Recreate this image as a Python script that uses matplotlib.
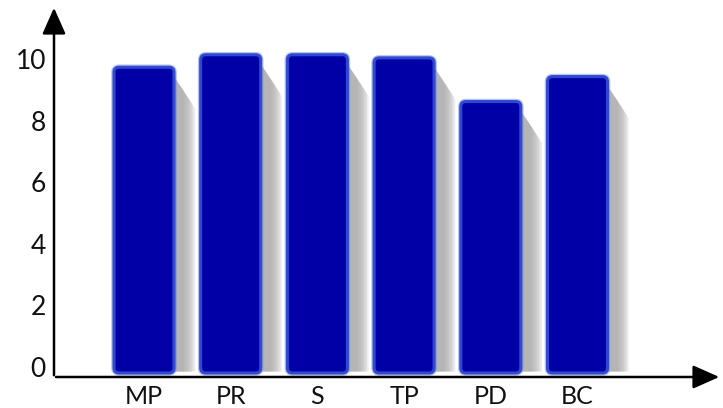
import numpy as np
import matplotlib.pyplot as plt
from matplotlib.patches import FancyBboxPatch, Polygon, FancyArrowPatch

categories = ["MP", "PR", "S", "TP", "PD", "BC"]
values = [9.8, 10.2, 10.2, 10.1, 8.7, 9.5]
y_ticks = [0, 2, 4, 6, 8, 10]

W, H = 723, 408
fig = plt.figure(figsize=(W / 100, H / 100), dpi=100)

# axes box in pixels: left edge, baseline, right end, top end
x0, yb, x1, yt = 54, 377, 720, 10
ax = fig.add_axes([x0 / W, (H - yb) / H, (x1 - x0) / W, (yb - yt) / H])

step_px = 86.7      # pixels between bar centres
unit_px = 31.2      # pixels per y unit
first_px = 144      # centre of the first bar
zero_px = 373       # y pixel of value 0

ax.set_xlim((x0 - first_px) / step_px, (x1 - first_px) / step_px)
ax.set_ylim(-(yb - zero_px) / unit_px, (zero_px - yt) / unit_px)
for s in ax.spines.values():
    s.set_visible(False)
ax.set_xticks([])
ax.set_yticks([])

font = ["Lato", "DejaVu Sans"]
bar_w = 60 / step_px
r_x = 5 / step_px
aspect = (5 / unit_px) / r_x

for i, (name, v) in enumerate(zip(categories, values)):
    left = i - bar_w / 2
    right = i + bar_w / 2
    # soft drop shadow, built from stacked translucent layers
    for k in range(8):
        dx = (10 + k * 1.6) / step_px
        dy = (24 + k * 2.5) / unit_px
        shadow = Polygon([(right - 0.05, v - 0.1), (right + dx, v - dy),
                          (right + dx, 0.05), (right - 0.05, 0.05)],
                         closed=True, facecolor="#a8a8a8", edgecolor="none",
                         alpha=0.2, zorder=1)
        ax.add_patch(shadow)
    # slight glow around the border
    glow = FancyBboxPatch((left, 0), bar_w, v,
                          boxstyle=f"round,pad=0,rounding_size={r_x}",
                          mutation_aspect=aspect, facecolor="none",
                          edgecolor="#6f86e0", linewidth=4, alpha=0.5, zorder=2)
    ax.add_patch(glow)
    bar = FancyBboxPatch((left, 0), bar_w, v,
                         boxstyle=f"round,pad=0,rounding_size={r_x}",
                         mutation_aspect=aspect, facecolor="#0000a6",
                         edgecolor="#2f4ad0", linewidth=2.2, zorder=3)
    ax.add_patch(bar)
    ax.text(i, -(396 - zero_px) / unit_px, name, ha="center", va="center",
            fontsize=18, family=font, color="#111111")

for t in y_ticks:
    ax.text(-(first_px - 46) / step_px, t * 0.985 + 0.12, str(t), ha="right",
            va="center", fontsize=19, family=font, color="#111111")

# axis lines with arrow heads
arrow_style = "-|>,head_length=0.9,head_width=0.4"
fig.patches.append(FancyArrowPatch(
    (x0 / W, (H - yb - 1) / H), (x0 / W, (H - 5) / H), transform=fig.transFigure,
    arrowstyle=arrow_style, mutation_scale=18, linewidth=1.8, color="black"))
fig.patches.append(FancyArrowPatch(
    (x0 / W - 0.001, (H - yb) / H), (722 / W, (H - yb) / H), transform=fig.transFigure,
    arrowstyle=arrow_style, mutation_scale=18, linewidth=1.8, color="black"))

fig.savefig("out.png", dpi=100)
